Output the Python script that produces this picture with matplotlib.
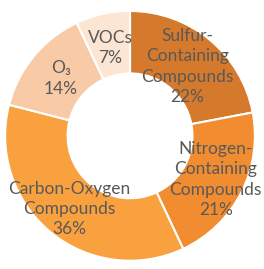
import matplotlib
matplotlib.use('Agg')
import matplotlib.pyplot as plt
import numpy as np

plt.rcParams['font.family'] = ['Lato', 'DejaVu Sans']

names = ['Sulfur-\nContaining\nCompounds', 'Nitrogen-\nContaining\nCompounds',
         'Carbon-Oxygen\nCompounds', 'O\u2083', 'VOCs']
shares = [22, 21, 36, 14, 7]
colors = ['#d57a2c', '#f28c30', '#f9a03f', '#f9caa6', '#fce5d2']

fig = plt.figure(figsize=(2.64, 2.69), dpi=100)
ax = fig.add_axes([0.01, 0.02, 0.965, 0.95])

wedges, _ = ax.pie(shares, colors=colors, startangle=90, counterclock=False,
                   radius=1.0, wedgeprops=dict(width=0.5, edgecolor='white', linewidth=1.5))

# labels sit in the ring, roughly mid-segment
dist = [0.72, 0.77, 0.76, 0.72, 0.72]
for w, n, s, r in zip(wedges, names, shares, dist):
    mid = np.deg2rad((w.theta1 + w.theta2) / 2)
    ax.text(r * np.cos(mid), r * np.sin(mid), '%s\n%d%%' % (n, s),
            ha='center', va='center', fontsize=12.5, color='#595959', linespacing=1.32)

ax.set_xlim(-1.02, 1.02)
ax.set_ylim(-1.02, 1.02)
ax.set_aspect('equal')
fig.savefig('out.png', dpi=100)
